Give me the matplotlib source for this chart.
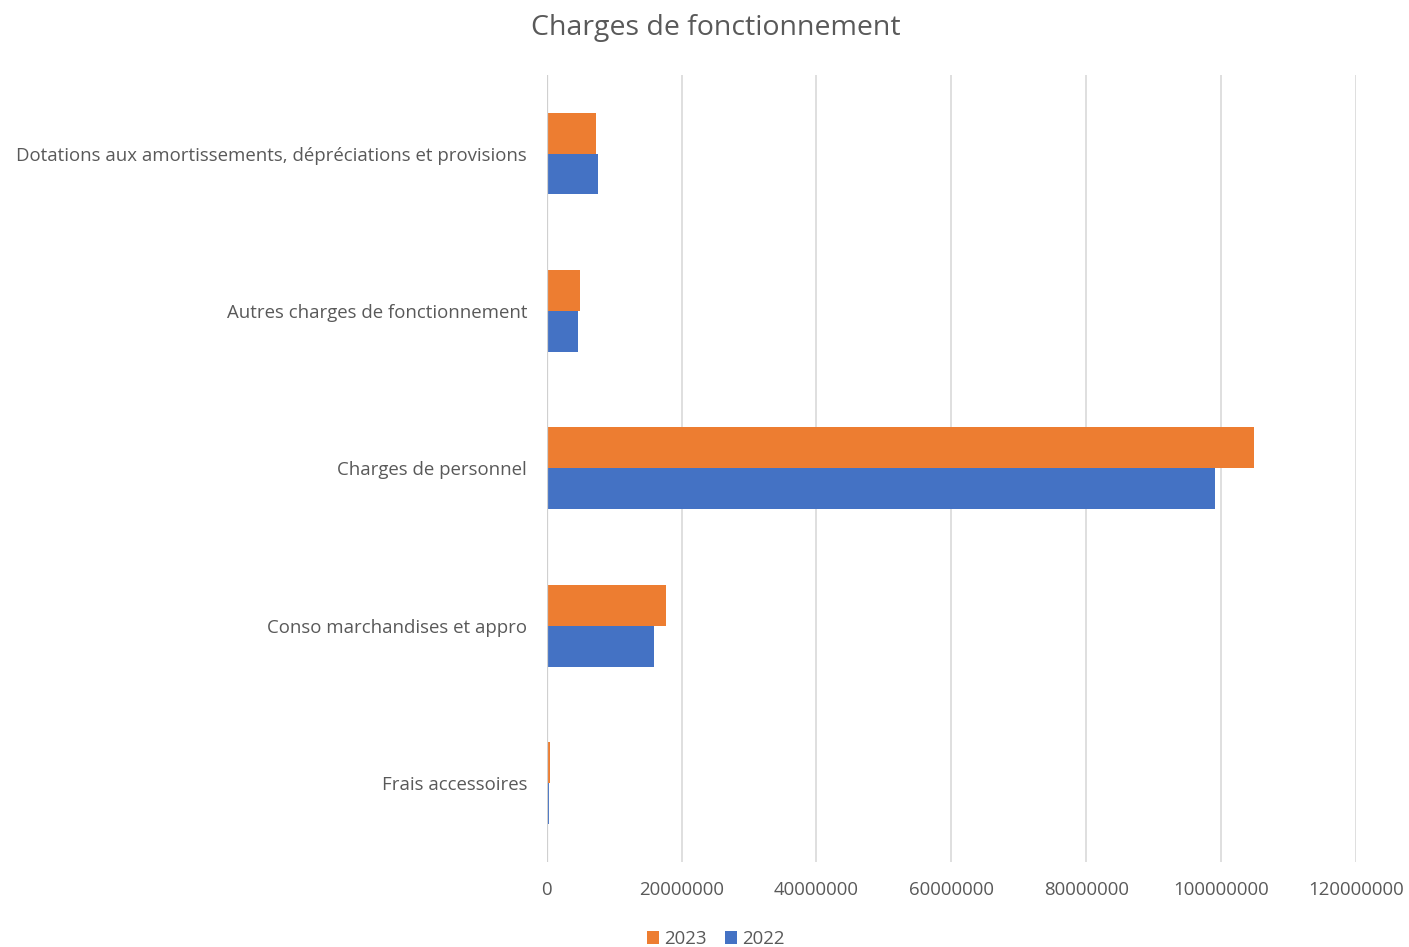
import numpy as np
import matplotlib.pyplot as plt

categories = ['Frais accessoires', 'Conso marchandises et appro', 'Charges de personnel',
              'Autres charges de fonctionnement',
              'Dotations aux amortissements, dépréciations et provisions']
v2023 = [450000, 17700000, 104900000, 4950000, 7300000]
v2022 = [400000, 15900000, 99100000, 4650000, 7600000]
xticks = [0, 20000000, 40000000, 60000000, 80000000, 100000000, 120000000]

orange = '#ED7D31'
blue = '#4472C4'
grey = '#595959'

plt.rcParams['font.family'] = ['Open Sans', 'DejaVu Sans']

fig = plt.figure(figsize=(14.09, 9.47), dpi=100)
ax = fig.add_axes([0.388, 0.090, 0.5744, 0.831])

y = np.arange(len(categories))
h = 0.26
ax.barh(y + h / 2, v2023, height=h, color=orange, label='2023', zorder=3)
ax.barh(y - h / 2, v2022, height=h, color=blue, label='2022', zorder=3)

ax.set_xlim(0, 120000000)
ax.set_ylim(-0.5, 4.5)
ax.set_xticks(xticks)
ax.set_xticklabels([str(t) for t in xticks])
ax.set_yticks(y)
ax.set_yticklabels(categories)
ax.tick_params(axis='both', length=0, labelsize=13.4, labelcolor=grey)
ax.tick_params(axis='y', pad=14)
ax.tick_params(axis='x', pad=14)
ax.grid(axis='x', color='#D9D9D9', linewidth=1.2, zorder=0)
for s in ax.spines.values():
    s.set_visible(False)
ax.axvline(0, color='#D0D0D0', linewidth=1.6, zorder=4)

fig.suptitle('Charges de fonctionnement', x=0.508, y=0.985, fontsize=20.5, color=grey)

leg = fig.legend(loc='lower center', bbox_to_anchor=(0.508, -0.019), ncol=2, frameon=False,
                 fontsize=13.4, handlelength=0.65, handleheight=0.65, handletextpad=0.25,
                 columnspacing=1.0)
for t in leg.get_texts():
    t.set_color(grey)

fig.savefig('out.png', dpi=100)
